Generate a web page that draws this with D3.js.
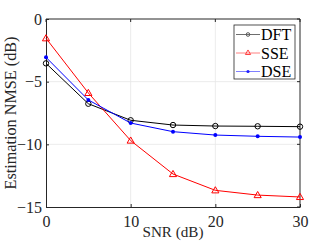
<!DOCTYPE html>
<html><head><meta charset="utf-8">
<script src="https://cdn.jsdelivr.net/npm/d3@7"></script>
<style>body{margin:0;background:#fff}svg{display:block}
svg text{font-family:"Liberation Serif","Times New Roman","DejaVu Serif",serif !important;}</style>
</head><body><svg id="c" width="332" height="249"></svg>
<script>
const snr = [0, 5, 10, 15, 20, 25, 30];
const dft = [-3.54, -6.76, -8.08, -8.46, -8.54, -8.56, -8.59];
const sse = [-1.54, -5.9, -9.7, -12.37, -13.67, -14.05, -14.2];
const dse = [-3.06, -6.46, -8.3, -8.99, -9.26, -9.36, -9.42];
const xTicks = [0, 10, 20, 30];
const yTicks = [0, -5, -10, -15];
const seriesNames = ["DFT", "SSE", "DSE"];

const svg = d3.select("#c");
const L = 46, R = 300, T = 19, B = 207;
const x = d3.scaleLinear().domain([0, 30]).range([L, R]);
const y = d3.scaleLinear().domain([-15, 0]).range([B, T]);

// grid
svg.append("g").selectAll("line").data(xTicks.filter(d => d > 0 && d < 30)).join("line")
  .attr("x1", d => x(d)).attr("x2", d => x(d)).attr("y1", T).attr("y2", B)
  .attr("stroke", "#e6e6e6").attr("stroke-width", 0.8);
svg.append("g").selectAll("line").data(yTicks.filter(d => d < 0 && d > -15)).join("line")
  .attr("y1", d => y(d)).attr("y2", d => y(d)).attr("x1", L).attr("x2", R)
  .attr("stroke", "#e6e6e6").attr("stroke-width", 0.8);

// axes
const ax = d3.axisBottom(x).tickValues(xTicks).tickSizeInner(-3).tickSizeOuter(0).tickPadding(9);
const gx = svg.append("g").attr("transform", `translate(0,${B})`).call(ax);
const ay = d3.axisLeft(y).tickValues(yTicks).tickSizeInner(-3).tickSizeOuter(0).tickPadding(4);
const gy = svg.append("g").attr("transform", `translate(${L},0)`).call(ay);
[gx, gy].forEach(g => {
  g.attr("font-family", null).attr("font-size", 16);
  g.select(".domain").attr("stroke", "#262626");
  g.selectAll(".tick line").attr("stroke", "#262626");
  g.selectAll(".tick text").attr("fill", "#262626");
});
gx.selectAll(".tick text").attr("dy", "0.71em");
// top/right box
svg.append("line").attr("x1", L).attr("x2", R).attr("y1", T).attr("y2", T).attr("stroke", "#262626");
svg.append("line").attr("x1", R).attr("x2", R).attr("y1", T).attr("y2", B).attr("stroke", "#262626");
svg.append("g").selectAll("line").data(xTicks).join("line")
  .attr("x1", d => x(d)).attr("x2", d => x(d)).attr("y1", T).attr("y2", T + 3).attr("stroke", "#262626");
svg.append("g").selectAll("line").data(yTicks).join("line")
  .attr("y1", d => y(d)).attr("y2", d => y(d)).attr("x1", R).attr("x2", R - 3).attr("stroke", "#262626");

// labels (font size fitted to the reference text extents)
function fit(sel, target) {
  const len = sel.node().getComputedTextLength();
  if (len > 0) sel.attr("font-size", 16 * target / len);
}
const xl = svg.append("text").attr("x", (L + R) / 2).attr("y", 237).attr("text-anchor", "middle")
  .attr("font-size", 16).attr("fill", "#262626").text("SNR (dB)");
fit(xl, 61);
const yl = svg.append("text").attr("transform", `translate(16,${(T + B) / 2}) rotate(-90)`).attr("text-anchor", "middle")
  .attr("font-size", 16).attr("fill", "#262626").text("Estimation NMSE (dB)");
fit(yl, 153);

const colors = ["#000000", "#ff0000", "#0000ff"];
const data = [dft, sse, dse];
const line = d3.line().x((d, i) => x(snr[i])).y(d => y(d));
const tri = d3.symbol().type(d3.symbolTriangle).size(22);

function marker(g, k, cx, cy) {
  if (k === 0) g.append("circle").attr("cx", cx).attr("cy", cy).attr("r", 2.7).attr("fill", "none").attr("stroke", colors[0]).attr("stroke-width", 1);
  else if (k === 1) g.append("path").attr("d", tri()).attr("transform", `translate(${cx},${cy + 0.5})`).attr("fill", "none").attr("stroke", colors[1]).attr("stroke-width", 1);
  else g.append("circle").attr("cx", cx).attr("cy", cy).attr("r", 2).attr("fill", colors[2]);
}

data.forEach((vals, k) => {
  const g = svg.append("g");
  g.append("path").attr("d", line(vals)).attr("fill", "none").attr("stroke", colors[k]).attr("stroke-width", 1);
  vals.forEach((v, i) => marker(g, k, x(snr[i]), y(v)));
});

// legend
const lg = svg.append("g");
lg.append("rect").attr("x", 234).attr("y", 25).attr("width", 61).attr("height", 54)
  .attr("fill", "#fff").attr("stroke", "#262626").attr("stroke-width", 0.8);
const legendColors = ["#6e6e6e", "#ff8080", "#8080ff"];
seriesNames.forEach((n, k) => {
  const yy = 34.5 + k * 18.5;
  lg.append("line").attr("x1", 236).attr("x2", 260).attr("y1", yy).attr("y2", yy).attr("stroke", legendColors[k]).attr("stroke-width", 1);
  const mg = lg.append("g");
  if (k === 0) mg.append("circle").attr("cx", 248).attr("cy", yy).attr("r", 1.8).attr("fill", "none").attr("stroke", "#555");
  else if (k === 1) mg.append("path").attr("d", d3.symbol().type(d3.symbolTriangle).size(12)()).attr("transform", `translate(248,${yy})`).attr("fill", "none").attr("stroke", "#ff4040");
  else mg.append("circle").attr("cx", 248).attr("cy", yy).attr("r", 1.6).attr("fill", "#2020ff");
  lg.append("text").attr("x", 261).attr("y", yy + 5.5).attr("font-size", 16).attr("fill", "#000").text(n);
});
</script></body></html>
